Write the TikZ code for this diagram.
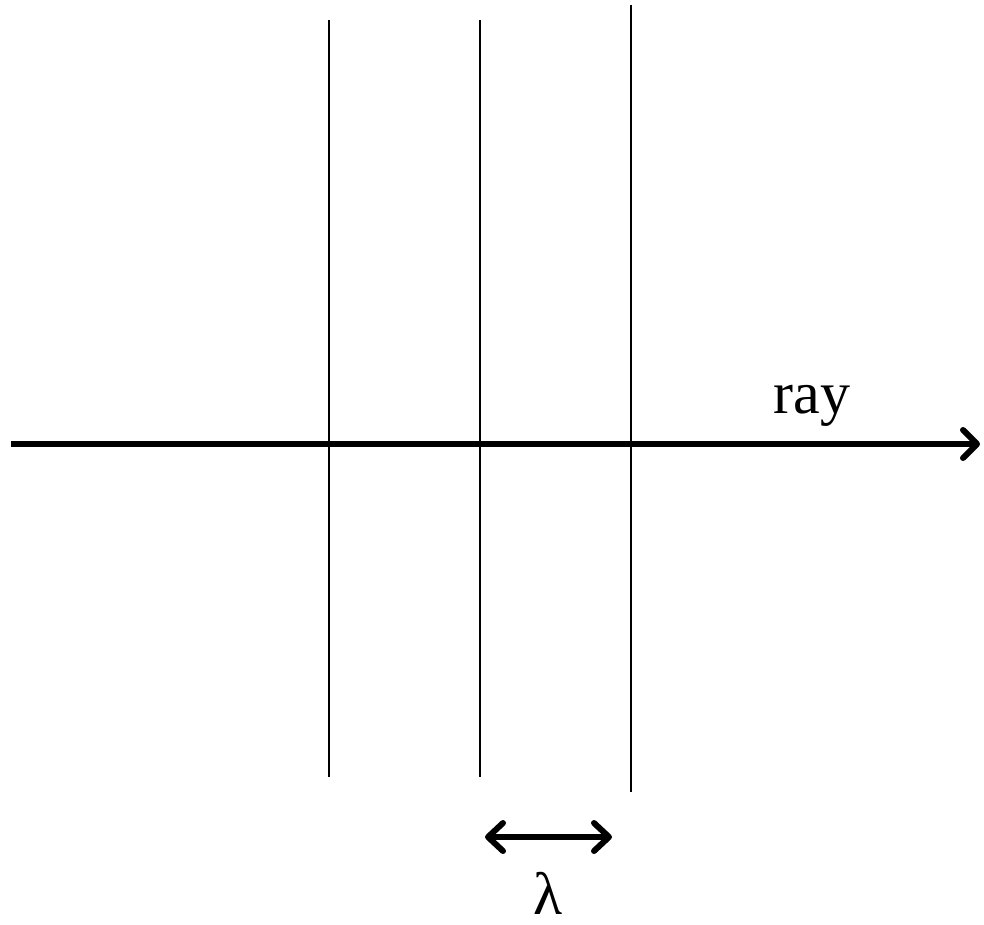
\documentclass[tikz,border=0pt]{standalone}
\usepackage{fontspec}
\setmainfont{Liberation Serif}
\usetikzlibrary{arrows.meta}
\begin{document}
\begin{tikzpicture}[x=1pt,y=-1pt,
  wave/.style={line width=2pt, black},
  rayline/.style={line width=6pt, -{Straight Barb[length=14pt,width=28pt,round]}},
  dimline/.style={line width=6pt, {Straight Barb[length=15pt,width=28pt,round]}-{Straight Barb[length=15pt,width=28pt,round]}},
  lbl/.style={inner sep=0pt, font=\fontsize{60}{72}\selectfont}]
\useasboundingbox (0,0) rectangle (984,925);
\coordinate (w1t) at (329,20);  \coordinate (w1b) at (329,777);
\coordinate (w2t) at (480,20);  \coordinate (w2b) at (480,777);
\coordinate (w3t) at (631,5);   \coordinate (w3b) at (631,792);
\coordinate (rs) at (11,444);   \coordinate (re) at (980,444);
\coordinate (ds) at (485,837);  \coordinate (de) at (612,837);
\draw[wave] (w1t) -- (w1b);
\draw[wave] (w2t) -- (w2b);
\draw[wave] (w3t) -- (w3b);
\draw[rayline] (rs) -- (re);
\draw[dimline] (ds) -- (de);
\node[lbl, anchor=base] (raytxt) at (812,413) {ray};
\node[lbl, anchor=base] (lam) at (548,914) {λ};
\end{tikzpicture}
\end{document}
